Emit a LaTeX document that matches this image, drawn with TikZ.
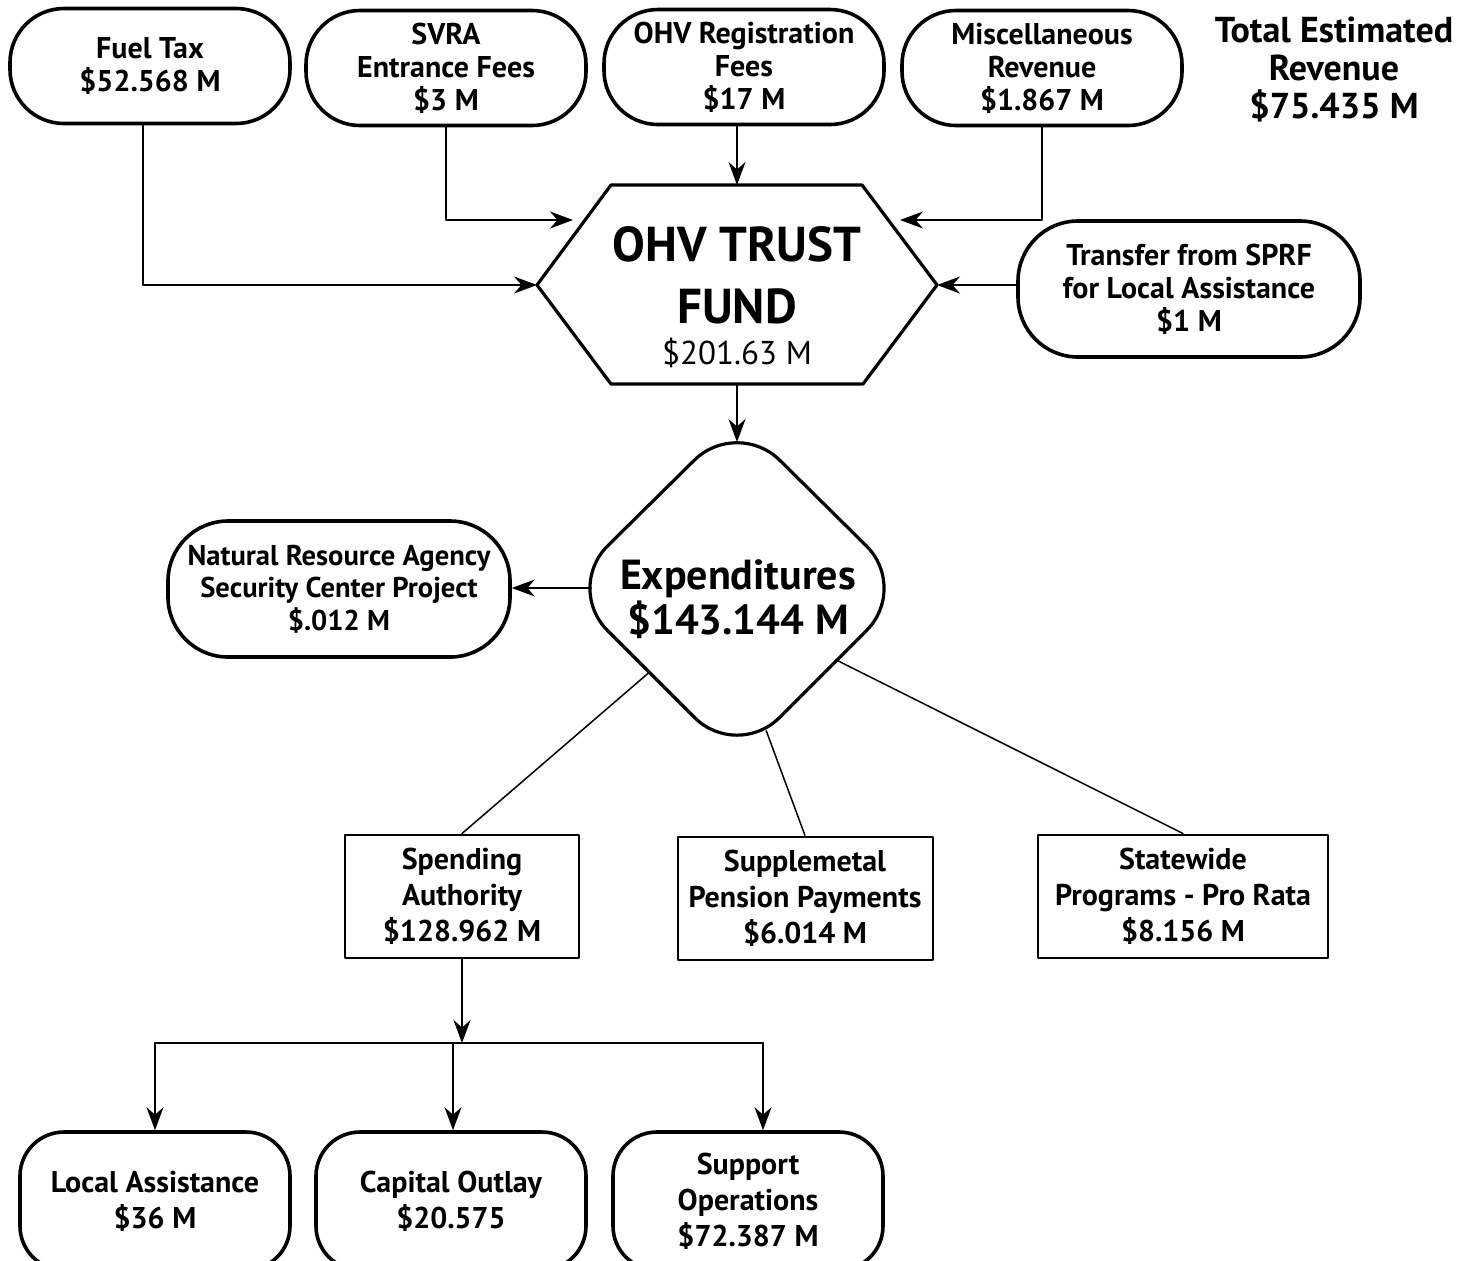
\documentclass[tikz,border=0pt]{standalone}
\usepackage{fontspec}
\setmainfont{PT Sans}
\usetikzlibrary{calc, positioning}
\usetikzlibrary{arrows.meta}

\tikzset{
  revbox/.style={draw, line width=1.8pt, rounded corners=27pt,
    minimum width=140pt, minimum height=57.5pt, align=center, inner sep=1pt,
    font=\fontsize{15}{16.5}\selectfont\bfseries},
  widebox/.style={revbox, minimum width=171pt, minimum height=68pt,
    rounded corners=30pt},
  outbox/.style={revbox, minimum width=135pt, minimum height=69pt,
    rounded corners=22pt, font=\fontsize{15}{18}\selectfont\bfseries},
  itembox/.style={draw, line width=1pt, minimum height=61.5pt, align=center,
    inner sep=1pt, font=\fontsize{15}{18}\selectfont\bfseries},
  shapeline/.style={line width=1.6pt},
  flow/.style={line width=0.9pt, -{Stealth[length=11.5pt,width=8.5pt]}},
  link/.style={line width=0.75pt}
}

\begin{document}
\begin{tikzpicture}[x=0.5pt,y=-0.5pt,line cap=round,line join=round]
\path[use as bounding box] (0,0) rectangle (1472,1260);
\clip (0,0) rectangle (1472,1260);

% revenue sources
\node[revbox] (fuel) at (150,66) {Fuel Tax\\\$52.568 M};
\node[revbox] (svra) at (446,68) {SVRA\\Entrance Fees\\\$3 M};
\node[revbox] (ohvreg) at (744,67) {OHV Registration\\Fees\\\$17 M};
\node[revbox] (misc) at (1042,68) {Miscellaneous\\Revenue\\\$1.867 M};
\node[align=center, font=\fontsize{18}{19}\selectfont\bfseries] (total)
  at (1334,69) {Total Estimated\\Revenue\\\$75.435 M};
\node[widebox, font=\fontsize{15}{16.5}\selectfont\bfseries] (transfer)
  at (1189,289) {Transfer from SPRF\\for Local Assistance\\\$1 M};

% trust fund hexagon
\coordinate (fundW) at (537,285);
\coordinate (fundE) at (937,285);
\coordinate (fundN) at (737,185);
\coordinate (fundS) at (737,384);
\draw[shapeline] (611,185) -- (862,185) -- (fundE) -- (863,384)
  -- (611,384) -- (fundW) -- cycle;
\node[align=center, inner sep=0pt, font=\fontsize{24.5}{31}\selectfont\bfseries]
  (fund) at (737,297)
  {OHV TRUST\\FUND\\[-10.5pt]\fontsize{16.5}{18}\selectfont\mdseries \$201.63 M};

% expenditures diamond
\coordinate (expN) at (737,418);
\coordinate (expE) at (909,588);
\coordinate (expS) at (737,760);
\coordinate (expW) at (565,588);
\draw[shapeline, rounded corners=30pt] (expN) -- (expE) -- (expS)
  -- (expW) -- cycle;
\node[align=center, inner sep=0pt, font=\fontsize{21}{22.5}\selectfont\bfseries]
  (exp) at (738,599) {Expenditures\\\$143.144 M};
\coordinate (expTop) at (737,442);
\coordinate (expLeft) at (591,588);
\coordinate (expA) at ($(expW)!0.49!(expS)$);
\coordinate (expB) at ($(expE)!0.83!(expS)$);
\coordinate (expC) at ($(expE)!0.42!(expS)$);

\node[widebox, font=\fontsize{14.3}{16.2}\selectfont\bfseries] (nra)
  at (339,589) {Natural Resource Agency\\Security Center Project\\\$.012 M};

% expenditure items
\node[itembox, minimum width=117pt] (spend) at (462,896)
  {Spending\\Authority\\\$128.962 M};
\node[itembox, minimum width=127.5pt] (pension) at (805,898)
  {Supplemetal\\Pension Payments\\\$6.014 M};
\node[itembox, minimum width=145pt] (statewide) at (1183,896)
  {Statewide\\Programs - Pro Rata\\\$8.156 M};

% spending authority split
\node[outbox] (local) at (155,1201) {Local Assistance\\\$36 M};
\node[outbox] (capital) at (451,1201) {Capital Outlay\\\$20.575};
\node[outbox] (support) at (748,1201) {Support\\Operations\\\$72.387 M};
\coordinate (split) at (462,1043);
\coordinate (splitL) at (155,1043);
\coordinate (splitM) at (453,1043);
\coordinate (splitR) at (763,1043);

% connectors
\draw[flow] ([xshift=-3.5pt]fuel.south) |- (fundW);
\draw[flow] (svra.south) |- (573,220);
\draw[flow] (fundN |- ohvreg.south) -- (fundN);
\draw[flow] (misc.south) |- (900,220);
\draw[flow] (transfer.west |- fundE) -- (fundE);
\draw[flow] (fundS) -- (expTop);
\draw[flow] (expLeft) -- (nra.east |- expLeft);
\draw[link] (expA) -- (spend.north);
\draw[link] (expB) -- (pension.north);
\draw[link] (expC) -- (statewide.north);
\draw[flow] (spend.south) -- (split);
\draw[link] (splitL) -- (splitR);
\draw[flow] (splitL) -- (local.north);
\draw[flow] (splitM) -- (splitM |- capital.north);
\draw[flow] (splitR) -- (splitR |- support.north);
\end{tikzpicture}
\end{document}
